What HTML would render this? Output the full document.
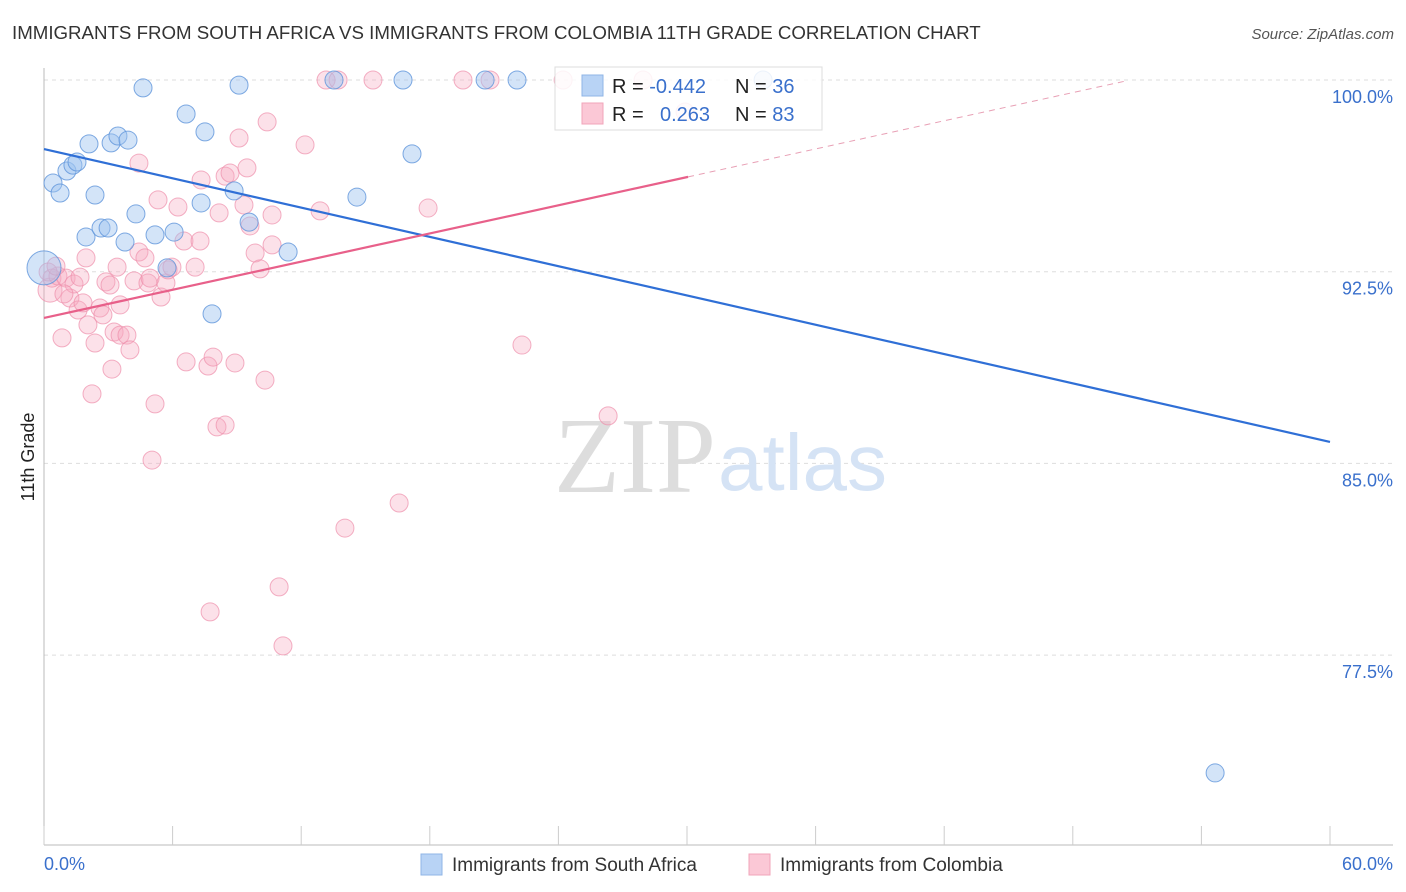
<!DOCTYPE html>
<html><head><meta charset="utf-8"><style>
body{margin:0;background:#fff;font-family:"Liberation Sans",sans-serif;}
svg{display:block}
</style></head><body>
<svg id="chart" width="1406" height="892" xmlns="http://www.w3.org/2000/svg">
<text x="12" y="39" font-size="18.7" fill="#333" font-family="Liberation Sans, sans-serif">IMMIGRANTS FROM SOUTH AFRICA VS IMMIGRANTS FROM COLOMBIA 11TH GRADE CORRELATION CHART</text>
<text x="1394" y="39" font-size="15" fill="#555" text-anchor="end" font-style="italic">Source: ZipAtlas.com</text>
<text transform="translate(34,457) rotate(-90)" font-size="18" fill="#222" text-anchor="middle">11th Grade</text>
<g id="grid"></g>
<text x="716" y="492" font-size="108" text-anchor="end" fill="#ddd" font-family="Liberation Serif, serif">ZIP</text>
<text x="718" y="490" font-size="80" fill="#d5e3f5">atlas</text>
<g id="pts"></g>
<g id="lines"></g>
<g>
<rect x="555" y="67" width="267" height="63" fill="#fff" fill-opacity="0.85" stroke="#ddd"/>
<rect x="582" y="75" width="21" height="21" fill="#b8d3f5" stroke="#8fb5e6"/>
<rect x="582" y="103" width="21" height="21" fill="#fbc8d6" stroke="#f0a5ba"/>
<text x="612" y="93" font-size="20" fill="#222">R = <tspan fill="#3a70cc">-0.442</tspan></text>
<text x="735" y="93" font-size="20" fill="#222">N = <tspan fill="#3a70cc">36</tspan></text>
<text x="612" y="121" font-size="20" fill="#222">R = <tspan fill="#3a70cc" x="660">0.263</tspan></text>
<text x="735" y="121" font-size="20" fill="#222">N = <tspan fill="#3a70cc">83</tspan></text>
</g>
<g>
<rect x="421" y="854" width="21" height="21" fill="#b8d3f5" stroke="#8fb5e6"/>
<text x="452" y="871" font-size="19" fill="#333">Immigrants from South Africa</text>
<rect x="749" y="854" width="21" height="21" fill="#fbc8d6" stroke="#f0a5ba"/>
<text x="780" y="871" font-size="19" fill="#333">Immigrants from Colombia</text>
</g>
</svg>
<script>
const xTicks=[0,6,12,18,24,30,36,42,48,54,60];
const yTicks=[100,92.5,85,77.5];
const yTickLabels=["100.0%","92.5%","85.0%","77.5%"];
const blueX=[0.42,0.75,1.07,1.35,1.54,1.96,2.10,2.38,2.66,2.99,3.13,3.45,3.92,3.78,4.29,4.62,5.18,5.74,6.07,6.63,7.33,7.51,7.84,8.87,9.10,9.57,11.39,13.53,14.60,16.75,17.17,20.58,22.07,33.55,54.64,0];
const blueY=[95.97,95.58,96.44,96.67,96.79,93.86,97.50,95.50,94.21,94.21,97.54,97.81,97.65,93.66,94.76,99.69,93.94,92.65,94.05,98.67,95.19,97.97,90.85,95.66,99.80,94.44,93.27,100,95.42,100,97.11,100,100,100,72.89,92.65];
const pinkX=[0.28,0.37,0.65,0.84,1.03,1.21,1.40,1.59,1.68,1.82,1.96,2.05,2.24,2.38,2.61,2.75,2.89,3.08,3.17,3.27,3.41,3.55,3.87,4.01,4.20,4.43,4.43,4.71,4.85,4.95,5.04,5.18,5.32,5.46,5.69,5.79,5.97,6.25,6.53,6.63,7.05,7.28,7.33,7.65,7.75,7.89,8.07,8.17,8.45,8.45,8.68,8.91,9.10,9.33,9.47,9.61,9.85,10.08,10.31,10.41,10.64,10.64,10.97,11.15,12.18,12.88,13.16,13.72,14.04,15.35,16.57,17.92,19.55,20.81,22.30,24.22,26.32,27.95,29.91,0.19,0.56,0.93,3.55];
const pinkY=[91.78,92.25,92.33,89.91,92.25,91.47,92.02,91.00,92.29,91.28,93.04,90.42,87.72,89.71,91.08,90.81,92.10,91.98,88.69,90.14,92.68,90.02,90.02,89.44,92.14,96.75,93.27,93.04,92.06,92.25,85.13,87.33,95.31,91.51,92.06,92.57,92.68,95.03,93.70,88.97,92.68,93.70,96.09,88.81,79.19,89.16,86.43,94.80,86.50,96.24,96.36,88.93,97.73,95.11,96.56,94.29,93.23,92.61,88.26,98.36,93.55,94.72,80.17,77.86,97.46,94.88,100,100,82.47,100,83.45,94.99,100,100,89.63,100,86.86,100,98.75,92.49,92.72,91.63,91.20];
const blueTrend=[97.30,85.84];
const pinkTrend=[90.69,0.1837];
const NS="http://www.w3.org/2000/svg";
const X=v=>44+v/60*1286, Y=v=>80+(100-v)/7.5*191.7;
function mk(t,a,p){const e=document.createElementNS(NS,t);for(const k in a)e.setAttribute(k,a[k]);p.appendChild(e);return e;}
const grid=document.getElementById('grid');
yTicks.forEach((v,i)=>{
 const l=mk('line',{x1:44,x2:1393,y1:Y(v),y2:Y(v),stroke:'#ddd','stroke-dasharray':'4,4'},grid);
 
 
 const t=mk('text',{x:1393,y:Y(v)+23,'font-size':18,fill:'#3a70cc','text-anchor':'end'},grid);
 t.textContent=yTickLabels[i];
 
 
});
const ax=mk('line',{x1:44,x2:44,y1:68,y2:845,stroke:'#bbb'},grid);


const bx=mk('line',{x1:44,x2:1393,y1:845,y2:845,stroke:'#bbb'},grid);


xTicks.forEach(v=>{
 const px=X(v);
 const tk=mk('line',{x1:px,x2:px,y1:826,y2:845,stroke:'#ccc'},grid);
 
 
});
const x0=mk('text',{x:44,y:870,'font-size':18,fill:'#3a70cc'},grid);x0.textContent='0.0%';


const x1=mk('text',{x:1393,y:870,'font-size':18,fill:'#3a70cc','text-anchor':'end'},grid);x1.textContent='60.0%';


const pts=document.getElementById('pts');
pinkX.forEach((x,i)=>{const c=mk('circle',{cx:X(x),cy:Y(pinkY[i]),r:i===0?12:9,fill:'#f6a9bf','fill-opacity':0.35,stroke:'#ee8fab','stroke-opacity':0.7},pts);
 
 });
blueX.forEach((x,i)=>{const c=mk('circle',{cx:X(x),cy:Y(blueY[i]),r:i===35?17:9,fill:'#9ec3ef','fill-opacity':0.45,stroke:'#5f95db','stroke-opacity':0.8},pts);
 
 });
const lines=document.getElementById('lines');
const bl=mk('line',{x1:X(0),y1:Y(blueTrend[0]),x2:X(60),y2:Y(blueTrend[1]),stroke:'#2f6fd6','stroke-width':2.2},lines);


const pe=30.05, pd=50.5;
const pl=mk('line',{x1:X(0),y1:Y(pinkTrend[0]),x2:X(pe),y2:Y(pinkTrend[0]+pinkTrend[1]*pe),stroke:'#e8608a','stroke-width':2.2},lines);


const pdl=mk('line',{x1:X(pe),y1:Y(pinkTrend[0]+pinkTrend[1]*pe),x2:X(pd),y2:Y(pinkTrend[0]+pinkTrend[1]*pd),stroke:'#e8a0b5','stroke-width':1,'stroke-dasharray':'6,5'},lines);


</script>
</body></html>
